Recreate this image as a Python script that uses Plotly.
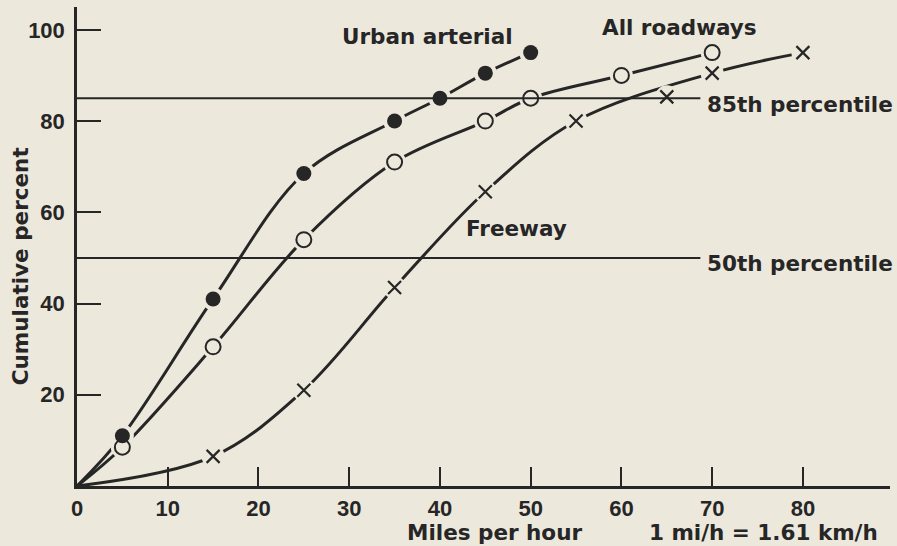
import plotly.graph_objects as go

# ---- data ----
urban_speed = [5, 15, 25, 35, 40, 45, 50]
urban_pct = [11, 41, 68.5, 80, 85, 90.5, 95]

all_speed = [5, 15, 25, 35, 45, 50, 60, 70]
all_pct = [8.5, 30.5, 54, 71, 80, 85, 90, 95]

free_speed = [15, 25, 35, 45, 55, 65, 70, 80]
free_pct = [6.5, 21, 43.5, 64.5, 80, 85.3, 90.5, 95]
free_on_curve = [True, True, True, True, True, False, True, True]

origin = (0, 0)
percentiles = [85, 50]
percentile_labels = ["85th percentile", "50th percentile"]
percentile_end = 68.7

x_ticks = [0, 10, 20, 30, 40, 50, 60, 70, 80]
y_ticks = [20, 40, 60, 80, 100]

# ---- style ----
BG = "#EDE8DC"
INK = "#262626"
TICKFONT = dict(family="Liberation Sans", size=22, color=INK, weight="bold")
LABFONT = dict(family="DejaVu Sans", size=21.5, color=INK, weight="bold")

fig = go.Figure()

def curve(xs, ys):
    fig.add_trace(go.Scatter(
        x=[origin[0]] + list(xs), y=[origin[1]] + list(ys), mode="lines",
        line=dict(color=INK, width=3, shape="spline", smoothing=1.0),
        hoverinfo="skip", cliponaxis=False))

curve(urban_speed, urban_pct)
curve(all_speed, all_pct)
curve([s for s, k in zip(free_speed, free_on_curve) if k],
      [p for p, k in zip(free_pct, free_on_curve) if k])

# masks that open small gaps in the curves around the markers
for xs, ys in [(urban_speed, urban_pct), (all_speed, all_pct), (free_speed, free_pct)]:
    fig.add_trace(go.Scatter(
        x=xs, y=ys, mode="markers",
        marker=dict(size=23, color=BG, line=dict(width=0)),
        hoverinfo="skip", cliponaxis=False))

# percentile lines
for p in percentiles:
    fig.add_trace(go.Scatter(
        x=[0, percentile_end], y=[p, p], mode="lines",
        line=dict(color=INK, width=2), hoverinfo="skip"))

# markers
fig.add_trace(go.Scatter(
    x=urban_speed, y=urban_pct, mode="markers", name="Urban arterial",
    marker=dict(symbol="circle", size=15, color=INK, line=dict(width=0)),
    cliponaxis=False))
fig.add_trace(go.Scatter(
    x=all_speed, y=all_pct, mode="markers", name="All roadways",
    marker=dict(symbol="circle-open", size=15, color=INK, line=dict(width=2, color=INK)),
    cliponaxis=False))
fig.add_trace(go.Scatter(
    x=free_speed, y=free_pct, mode="markers", name="Freeway",
    marker=dict(symbol="x-thin", size=13, color=INK, line=dict(width=2.2, color=INK)),
    cliponaxis=False))

# curve labels
fig.add_annotation(x=38.6, y=98.5, text="Urban arterial", showarrow=False, font=LABFONT)
fig.add_annotation(x=66.4, y=100.4, text="All roadways", showarrow=False, font=LABFONT)
fig.add_annotation(x=48.4, y=56.4, text="Freeway", showarrow=False, font=LABFONT)
for p, lab in zip(percentiles, percentile_labels):
    fig.add_annotation(x=69.2, y=p - 1.3, text=lab, showarrow=False,
                       xanchor="left", font=LABFONT)

# axis titles
fig.add_annotation(xref="paper", yref="paper", x=0.513, y=-0.097, text="Miles per hour",
                   showarrow=False, font=LABFONT, borderpad=0,
                   xanchor="center", yanchor="middle")
fig.add_annotation(xref="paper", yref="paper", x=0.845, y=-0.097, text="1 mi/h = 1.61 km/h",
                   showarrow=False, font=LABFONT, borderpad=0,
                   xanchor="center", yanchor="middle")
fig.add_annotation(xref="paper", yref="paper", x=-0.070, y=0.459, text="Cumulative percent",
                   showarrow=False, textangle=-90, font=LABFONT,
                   xanchor="center", yanchor="middle")

fig.update_layout(
    width=897, height=546,
    margin=dict(l=77, r=7, t=7, b=60),
    paper_bgcolor=BG, plot_bgcolor=BG,
    showlegend=False,
    xaxis=dict(range=[0, 89.6], tickvals=x_ticks, ticktext=[str(v) for v in x_ticks],
               ticks="inside", ticklen=19, tickwidth=2, tickcolor=INK,
               showline=True, linewidth=2.5, linecolor=INK,
               showgrid=False, zeroline=False, tickfont=TICKFONT,
               ticklabelstandoff=1),
    yaxis=dict(range=[0, 105], tickvals=y_ticks, ticktext=[str(v) for v in y_ticks],
               ticks="inside", ticklen=24, tickwidth=2, tickcolor=INK,
               showline=True, linewidth=2.5, linecolor=INK,
               showgrid=False, zeroline=False, tickfont=TICKFONT,
               ticklabelstandoff=5),
)

fig.write_html(
    "out.html",
    config={"displayModeBar": False},
    post_script="document.body.style.margin='0px';"
                "document.body.style.background='" + BG + "';",
)
